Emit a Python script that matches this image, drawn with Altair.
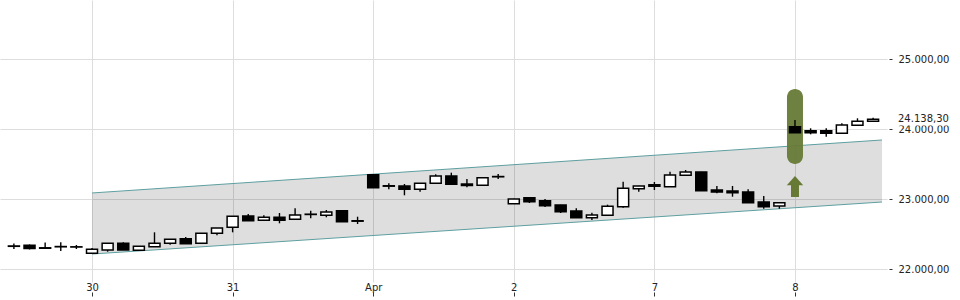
import altair as alt
import pandas as pd

# ---- candle data (index-based, 9 candles per trading day) ----
opens = [22329, 22339, 22303, 22321, 22317, 22224, 22271, 22367, 22267, 22319,
         22367, 22433, 22367, 22510, 22596, 22757, 22696, 22739, 22710, 22779,
         22767, 22833, 22689, 23347, 23189, 23186, 23139, 23224, 23329, 23214,
         23196, 23317, 22933, 23019, 22976, 22914, 22829, 22733, 22767, 22890,
         23147, 23204, 23176, 23339, 23386, 23129, 23114, 23100, 22957, 22900,
         24033, 23976, 23976, 23939, 24053, 24110]
highs = [22364, 22350, 22379, 22381, 22343, 22300, 22371, 22381, 22329, 22524,
         22429, 22457, 22514, 22586, 22757, 22786, 22767, 22800, 22867, 22833,
         22843, 22836, 22747, 23357, 23224, 23214, 23229, 23353, 23376, 23286,
         23307, 23357, 23003, 23024, 23000, 22917, 22867, 22804, 22919, 23247,
         23189, 23243, 23390, 23414, 23389, 23186, 23186, 23139, 23043, 22950,
         24129, 24010, 24010, 24081, 24153, 24161]
lows = [22286, 22279, 22289, 22257, 22286, 22221, 22247, 22271, 22264, 22319,
        22347, 22361, 22364, 22481, 22524, 22690, 22693, 22653, 22707, 22724,
        22739, 22676, 22643, 23157, 23139, 23053, 23104, 23221, 23207, 23167,
        23193, 23286, 22931, 22943, 22886, 22800, 22733, 22700, 22764, 22876,
        23104, 23129, 23174, 23336, 23117, 23081, 23033, 22946, 22861, 22861,
        23946, 23924, 23890, 23936, 24050, 24107]
closes = [22324, 22293, 22296, 22317, 22314, 22281, 22367, 22271, 22324, 22367,
          22424, 22361, 22510, 22586, 22753, 22690, 22739, 22696, 22771, 22783,
          22814, 22676, 22683, 23161, 23183, 23139, 23224, 23329, 23210, 23193,
          23304, 23321, 23000, 22961, 22904, 22819, 22733, 22771, 22896, 23153,
          23186, 23181, 23343, 23386, 23119, 23100, 23090, 22947, 22890, 22947,
          23947, 23947, 23939, 24057, 24110, 24138.3]

day_labels = ["30", "31", "Apr", "2", "7", "8"]
day_index = [5, 14, 23, 32, 41, 50]
y_ticks = [22000, 23000, 24000, 25000]
last_price = 24138.30

# trend channel
channel_x = [5, 55.57]
channel_upper = [23086, 23843]
channel_lower = [22214, 22957]

# signal annotation
signal_index = 50
signal_top = 24571
signal_bottom = 23500
arrow_value = 23178

OLIVE = "#667a36"
LINE = "#5e9fa0"
GRID = "#dddddd"

df = pd.DataFrame({"i": list(range(len(opens))), "open": opens, "high": highs,
                   "low": lows, "close": closes})
chan = pd.DataFrame({"i": channel_x, "up": channel_upper, "lo": channel_lower})
sig = pd.DataFrame({"i": [signal_index], "top": [signal_top], "bot": [signal_bottom],
                    "arrow": [arrow_value]})
lastdf = pd.DataFrame({"v": [last_price], "t": ["24.138,30"],
                       "b1": [24229], "b2": [24050]})

lab_expr = " : ".join([f"datum.value == {k} ? '{v}'" for k, v in zip(day_index, day_labels)]) + " : ''"
xscale = alt.Scale(domain=[-0.57, 55.57], nice=False, zero=False)
yscale = alt.Scale(domain=[21814.29, 25842.86], nice=False, zero=False)
xaxis = alt.Axis(values=day_index, labelExpr=lab_expr, grid=True, gridColor=GRID,
                 ticks=True, tickSize=4, offset=10, tickColor="#333333",
                 domain=False, labelPadding=-14, labelFontSize=10,
                 labelFont="DejaVu Sans", labelColor="#222222", title=None)
yaxis = alt.Axis(orient="right", values=y_ticks, grid=True, gridColor=GRID,
                 labelExpr="replace(replace(replace(format(datum.value, ',.2f'), ',', '#'), '.', ','), '#', '.')",
                 tickSize=3, offset=2, tickColor="#333333", domain=False,
                 labelPadding=6, labelFontSize=10, labelFont="DejaVu Sans",
                 labelColor="#222222", title=None)

X = alt.X("i:Q", scale=xscale, axis=xaxis, title=None)

band = alt.Chart(chan).mark_area(color="black", opacity=0.13).encode(
    x=X, y=alt.Y("up:Q", scale=yscale, axis=yaxis, title=None), y2="lo:Q")
up_line = alt.Chart(chan).mark_line(color=LINE, strokeWidth=1).encode(
    x=X, y=alt.Y("up:Q", scale=yscale, axis=yaxis, title=None))
lo_line = alt.Chart(chan).mark_line(color=LINE, strokeWidth=1).encode(
    x=X, y=alt.Y("lo:Q", scale=yscale, axis=yaxis, title=None))

highlight = alt.Chart(sig).mark_bar(size=16, cornerRadius=8, color=OLIVE, opacity=0.95).encode(
    x=X, y=alt.Y("top:Q", scale=yscale, axis=yaxis, title=None), y2="bot:Q")
arrow = alt.Chart(sig).mark_point(
    shape="M0,-1L0.78,-0.12L0.38,-0.12L0.38,1L-0.38,1L-0.38,-0.12L-0.78,-0.12Z",
    size=441, filled=True, color=OLIVE, opacity=1).encode(
    x=X, y=alt.Y("arrow:Q", scale=yscale, axis=yaxis, title=None))

wick = alt.Chart(df).mark_rule(color="black", strokeWidth=1.4).encode(
    x=X, y=alt.Y("low:Q", scale=yscale, axis=yaxis, title=None), y2="high:Q")
body = alt.Chart(df).mark_bar(size=11, stroke="black", strokeWidth=1.5).encode(
    x=X, y=alt.Y("open:Q", scale=yscale, axis=yaxis, title=None), y2="close:Q",
    fill=alt.condition("datum.close >= datum.open", alt.value("white"), alt.value("black")))

last_bg = alt.Chart(lastdf).mark_rect(color="white").encode(
    x=alt.value(895), x2=alt.value(960),
    y=alt.Y("b1:Q", scale=yscale, axis=yaxis, title=None), y2="b2:Q")
last_txt = alt.Chart(lastdf).mark_text(align="left", baseline="middle", fontSize=10,
                                       font="DejaVu Sans", color="#222222").encode(
    x=alt.value(898), y=alt.Y("v:Q", scale=yscale, axis=yaxis, title=None), text="t:N")

chart = alt.layer(band, up_line, lo_line, highlight, arrow, wick, body, last_bg, last_txt).properties(
    width=887, height=282, background="white",
    autosize=alt.AutoSizeParams(type="none"),
    padding={"left": 0, "top": 0, "right": 73, "bottom": 18},
).configure_view(stroke=None)

chart.save("out.html", embed_options={"renderer": "svg", "actions": False})
